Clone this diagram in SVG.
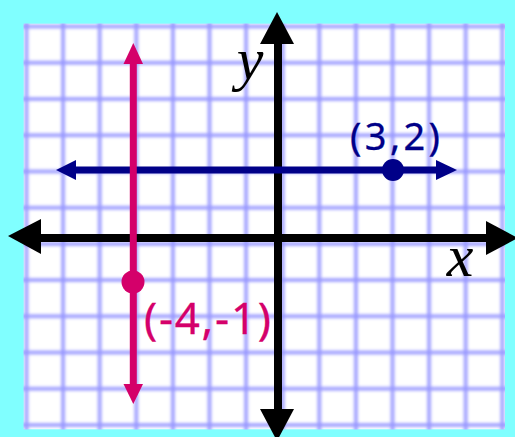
<svg xmlns="http://www.w3.org/2000/svg" width="515" height="437" viewBox="0 0 515 437">
  <defs>
    <style>
      .grid line { stroke: #9696ff; stroke-width: 4; stroke-opacity: 0.85; }
      .axis { stroke: #000; stroke-width: 8; fill: none; }
      .axhead { fill: #000; }
      .blue { stroke: #000088; stroke-width: 7; fill: none; }
      .bluef { fill: #000088; }
      .pink { stroke: #d4006a; stroke-width: 7; fill: none; }
      .pinkf { fill: #d4006a; }
      .lbl { font-family: "Noto Sans", "Open Sans", "DejaVu Sans", sans-serif; stroke-width: 0.3; }
      .var { font-family: "Liberation Serif", "DejaVu Serif", serif; font-style: italic; font-size: 60px; fill: #000; }
    </style>
    <filter id="soft" x="-5%" y="-5%" width="110%" height="110%">
      <feGaussianBlur stdDeviation="1.5"/>
    </filter>
    <clipPath id="gclip">
      <rect x="23.5" y="23.5" width="481.5" height="406"/>
    </clipPath>
  </defs>
  <rect x="0" y="0" width="515" height="437" fill="#80ffff"/>
  <g id="grid-paper" clip-path="url(#gclip)">
    <rect x="23.5" y="23.5" width="481.5" height="406" fill="#ffffff"/>
    <g class="grid" filter="url(#soft)">
      <line x1="26.5" y1="20" x2="26.5" y2="433"/>
      <line x1="63.1" y1="20" x2="63.1" y2="433"/>
      <line x1="99.7" y1="20" x2="99.7" y2="433"/>
      <line x1="136.3" y1="20" x2="136.3" y2="433"/>
      <line x1="172.9" y1="20" x2="172.9" y2="433"/>
      <line x1="209.5" y1="20" x2="209.5" y2="433"/>
      <line x1="246.1" y1="20" x2="246.1" y2="433"/>
      <line x1="282.7" y1="20" x2="282.7" y2="433"/>
      <line x1="319.3" y1="20" x2="319.3" y2="433"/>
      <line x1="355.9" y1="20" x2="355.9" y2="433"/>
      <line x1="392.5" y1="20" x2="392.5" y2="433"/>
      <line x1="429.1" y1="20" x2="429.1" y2="433"/>
      <line x1="465.7" y1="20" x2="465.7" y2="433"/>
      <line x1="502.3" y1="20" x2="502.3" y2="433"/>
      <line x1="20" y1="26.5" x2="509" y2="26.5"/>
      <line x1="20" y1="62.7" x2="509" y2="62.7"/>
      <line x1="20" y1="99.0" x2="509" y2="99.0"/>
      <line x1="20" y1="135.2" x2="509" y2="135.2"/>
      <line x1="20" y1="171.4" x2="509" y2="171.4"/>
      <line x1="20" y1="207.7" x2="509" y2="207.7"/>
      <line x1="20" y1="243.9" x2="509" y2="243.9"/>
      <line x1="20" y1="280.1" x2="509" y2="280.1"/>
      <line x1="20" y1="316.3" x2="509" y2="316.3"/>
      <line x1="20" y1="352.6" x2="509" y2="352.6"/>
      <line x1="20" y1="388.8" x2="509" y2="388.8"/>
      <line x1="20" y1="425.0" x2="509" y2="425.0"/>
    </g>
  </g>
  <g id="connectors">
    <g id="x-axis">
      <line class="axis" x1="38" y1="238" x2="488" y2="238"/>
      <polygon class="axhead" points="8,236 41,219 41,254"/>
      <polygon class="axhead" points="518,238 486,221 486,255"/>
    </g>
    <g id="y-axis">
      <line class="axis" x1="278" y1="42" x2="278" y2="411"/>
      <polygon class="axhead" points="277,12 260,44 294,44"/>
      <polygon class="axhead" points="277,441 260,409 294,409"/>
    </g>
    <g id="line-y2">
      <line class="blue" x1="73" y1="170" x2="439" y2="170"/>
      <polygon class="bluef" points="56,170 76,160 76,180"/>
      <polygon class="bluef" points="457,170 436,160 436,180"/>
    </g>
    <g id="line-xm4">
      <line class="pink" x1="133.3" y1="61" x2="133.3" y2="387"/>
      <polygon class="pinkf" points="133.3,43 123.5,64 143,64"/>
      <polygon class="pinkf" points="133.3,404 123.5,384 143,384"/>
    </g>
  </g>
  <g id="label-y">
    <text class="var" x="250" y="79" text-anchor="middle">y</text>
  </g>
  <g id="label-x">
    <text class="var" x="460" y="276" text-anchor="middle">x</text>
  </g>
  <g id="point-3-2">
    <circle class="bluef" cx="393" cy="170" r="11"/>
    <text class="lbl" x="350" y="150" font-size="38" fill="#000088" stroke="#000088" textLength="90" lengthAdjust="spacing">(3,2)</text>
  </g>
  <g id="point-m4-m1">
    <circle class="pinkf" cx="133" cy="282" r="11.5"/>
    <text class="lbl" x="144" y="334" font-size="44" fill="#d4006a" stroke="#d4006a" textLength="127" lengthAdjust="spacing">(-4,-1)</text>
  </g>
</svg>
